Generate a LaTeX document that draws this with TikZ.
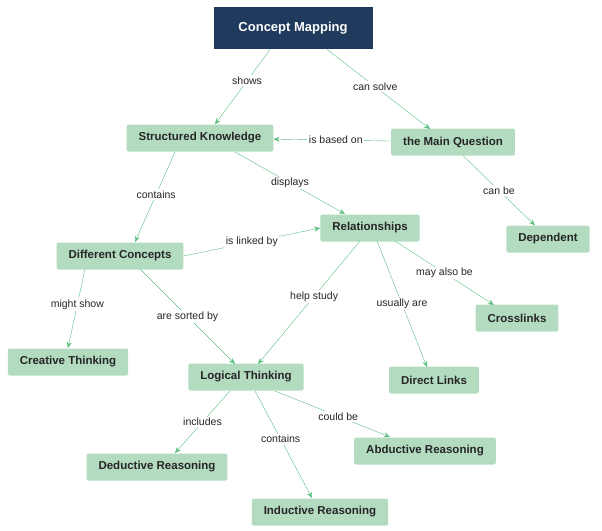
\documentclass[tikz,border=0pt]{standalone}
\usepackage{fontspec}
\setmainfont{Liberation Sans}
\usetikzlibrary{arrows.meta}
\definecolor{mapgreen}{HTML}{B3DBC0}
\definecolor{linegreen}{HTML}{5CBF80}
\definecolor{navy}{HTML}{1F3A5C}
\tikzset{
  topic/.style={draw=none, fill=mapgreen, rounded corners=2pt, inner xsep=12pt,
    minimum height=27pt, font=\fontsize{11.5}{13}\selectfont\bfseries, text=black!85},
  link/.style={draw=linegreen, -{Stealth[length=6pt,width=5pt]}},
  lbl/.style={fill=white, inner sep=1.5pt, font=\fontsize{10.5}{12}\selectfont, text=black!85}
}
\begin{document}
\begin{tikzpicture}[x=1pt,y=-1pt]
\useasboundingbox (0,0) rectangle (602,530);
% nodes
\node[topic, fill=navy, text=white, minimum width=159pt, minimum height=42pt, rounded corners=0pt,
  font=\fontsize{13}{15}\selectfont\bfseries] (cm) at (293,28) {Concept Mapping};
\node[topic] (sk) at (200,138) {Structured Knowledge};
\node[topic] (mq) at (453,142) {the Main Question};
\node[topic] (dep) at (548,239) {Dependent};
\node[topic] (rel) at (370,228) {Relationships};
\node[topic] (dc) at (120,256) {Different Concepts};
\node[topic] (cross) at (517,318) {Crosslinks};
\node[topic] (cre) at (68,362) {Creative Thinking};
\node[topic] (log) at (246,377) {Logical Thinking};
\node[topic] (dir) at (434,380) {Direct Links};
\node[topic] (abd) at (425,451) {Abductive Reasoning};
\node[topic] (ded) at (157,467) {Deductive Reasoning};
\node[topic] (ind) at (320,512) {Inductive Reasoning};
% connectors
\draw[link] (cm.south west) ++(57,0) coordinate (c1) -- node[lbl, pos=0.42]{shows} (sk.north -| 215,0);
\draw[link] (cm.south east) ++(-46,0) coordinate (c2) -- node[lbl, pos=0.47]{can solve} (430,129);
\draw[link] (mq) -- node[lbl, pos=0.47]{is based on} (sk);
\draw[link] (mq.south) ++(10,0) coordinate (c3) -- node[lbl, pos=0.5]{can be} (dep.north -| 535,0);
\draw[link] (175,152) coordinate (c4) -- node[lbl, pos=0.47]{contains} (135,242);
\draw[link] (235,152) coordinate (c5) -- node[lbl, pos=0.5]{displays} (345,214);
\draw[link] (dc.east) -- node[lbl, pos=0.5]{is linked by} (rel.west);
\draw[link] (85,269) coordinate (c6) -- node[lbl, pos=0.45]{might show} (68,348);
\draw[link] (140,269) coordinate (c7) -- node[lbl, pos=0.5]{are sorted by} (235,364);
\draw[link] (360,241) coordinate (c8) -- node[lbl, pos=0.45]{help study} (258,364);
\draw[link] (377,241) coordinate (c9) -- node[lbl, pos=0.5]{usually are} (427,367);
\draw[link] (395,241) coordinate (c10) -- node[lbl, pos=0.5]{may also be} (494,305);
\draw[link] (230,391) coordinate (c11) -- node[lbl, pos=0.5]{includes} (175,453);
\draw[link] (255,391) coordinate (c12) -- node[lbl, pos=0.45]{contains} (312,498);
\draw[link] (275,391) coordinate (c13) -- node[lbl, pos=0.55]{could be} (390,437);
\end{tikzpicture}
\end{document}
